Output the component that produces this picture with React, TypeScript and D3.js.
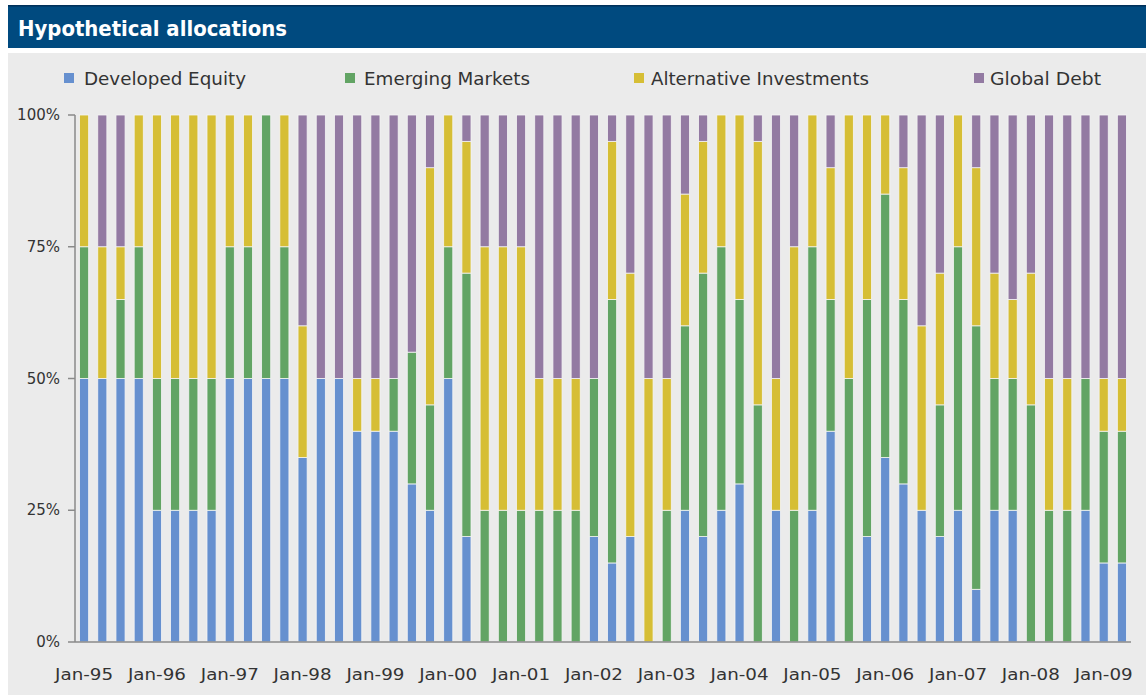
import React from "react";
import * as d3 from "d3";

const quarters = [
  "Jan-95","Apr-95","Jul-95","Oct-95","Jan-96","Apr-96","Jul-96","Oct-96",
  "Jan-97","Apr-97","Jul-97","Oct-97","Jan-98","Apr-98","Jul-98","Oct-98",
  "Jan-99","Apr-99","Jul-99","Oct-99","Jan-00","Apr-00","Jul-00","Oct-00",
  "Jan-01","Apr-01","Jul-01","Oct-01","Jan-02","Apr-02","Jul-02","Oct-02",
  "Jan-03","Apr-03","Jul-03","Oct-03","Jan-04","Apr-04","Jul-04","Oct-04",
  "Jan-05","Apr-05","Jul-05","Oct-05","Jan-06","Apr-06","Jul-06","Oct-06",
  "Jan-07","Apr-07","Jul-07","Oct-07","Jan-08","Apr-08","Jul-08","Oct-08",
  "Jan-09","Apr-09",
];

const tickLabels = [
  "Jan-95","Jan-96","Jan-97","Jan-98","Jan-99","Jan-00","Jan-01","Jan-02",
  "Jan-03","Jan-04","Jan-05","Jan-06","Jan-07","Jan-08","Jan-09",
];

const seriesNames = ["Developed Equity", "Emerging Markets", "Alternative Investments", "Global Debt"];

const developedEquity = [
  50,50,50,50,25,25,25,25,50,50,50,50,35,50,50,40,
  40,40,30,25,50,20,0,0,0,0,0,0,20,15,20,0,
  0,25,20,25,30,0,25,0,25,40,0,20,35,30,25,20,
  25,10,25,25,0,0,0,25,15,15,
];
const emergingMarkets = [
  25,0,15,25,25,25,25,25,25,25,50,25,0,0,0,0,
  0,10,25,20,25,50,25,25,25,25,25,25,30,50,0,0,
  25,35,50,50,35,45,0,25,50,25,50,45,50,35,0,25,
  50,50,25,25,45,25,25,25,25,25,
];
const alternativeInvestments = [
  25,25,10,25,50,50,50,50,25,25,0,25,25,0,0,10,
  10,0,0,45,25,25,50,50,50,25,25,25,0,30,50,50,
  25,25,25,25,35,50,25,50,25,25,50,35,15,25,35,25,
  25,30,20,15,25,25,25,0,10,10,
];
const globalDebt = [
  0,25,25,0,0,0,0,0,0,0,0,0,40,50,50,50,
  50,50,45,10,0,5,25,25,25,50,50,50,50,5,30,50,
  50,15,5,0,0,5,50,25,0,10,0,0,0,10,40,30,
  0,10,30,35,30,50,50,50,50,50,
];

const yTicks = [0, 0.25, 0.5, 0.75, 1];
const yTickLabels = ["0%", "25%", "50%", "75%", "100%"];

const colors = ["#6690cf", "#62a464", "#d6be35", "#937aa2"];

const W = 1146;
const H = 695;
const FONT = "'DejaVu Sans', Verdana, sans-serif";

export default function App() {
  const rows = quarters.map((q, i) => ({
    q,
    de: developedEquity[i] / 100,
    em: emergingMarkets[i] / 100,
    ai: alternativeInvestments[i] / 100,
    gd: globalDebt[i] / 100,
  }));
  const keys = ["de", "em", "ai", "gd"];
  const stacked = d3.stack<any>().keys(keys)(rows);

  const x = d3.scaleBand<string>().domain(quarters).range([75, 1131]).paddingInner(0.5).paddingOuter(0.25);
  const y = d3.scaleLinear().domain([0, 1]).range([642, 115]);

  const legend = [
    { sx: 64, tx: 84, tw: 162 },
    { sx: 345, tx: 364, tw: 166 },
    { sx: 634, tx: 651, tw: 218 },
    { sx: 974, tx: 990, tw: 111 },
  ];

  return (
    <svg
      width={W}
      height={H}
      style={{ position: "absolute", left: 0, top: 0, background: "#ffffff" }}
      fontFamily={FONT}
    >
      {/* title bar */}
      <rect x={8} y={5} width={W - 8} height={43} fill="#004a7f" />
      <rect x={8} y={5} width={W - 8} height={1.5} fill="#00305a" />
      <text x={18} y={36} fill="#ffffff" fontSize={21} fontWeight="bold" textLength={269} lengthAdjust="spacingAndGlyphs">
        Hypothetical allocations
      </text>

      {/* panel */}
      <rect x={8} y={53} width={W - 8} height={H - 53} fill="#ebebeb" />

      {/* legend */}
      {seriesNames.map((name, i) => (
        <g key={name}>
          <rect x={legend[i].sx} y={73} width={10} height={10} fill={colors[i]} />
          <text x={legend[i].tx} y={85} fontSize={17} fill="#333333" textLength={legend[i].tw} lengthAdjust="spacingAndGlyphs">
            {name}
          </text>
        </g>
      ))}

      {/* bars */}
      {stacked.map((layer, li) => (
        <g key={layer.key} fill={colors[li]}>
          {layer.map((d, i) => {
            const h = y(d[0]) - y(d[1]);
            if (h <= 0) return null;
            return (
              <rect
                key={i}
                x={x(quarters[i])}
                y={y(d[1])}
                width={x.bandwidth()}
                height={h}
                stroke="#f4f4f4"
                strokeWidth={0.8}
              />
            );
          })}
        </g>
      ))}

      {/* y axis */}
      <line x1={75} x2={75} y1={y(1)} y2={y(0)} stroke="#8a8a8a" strokeWidth={1.5} />
      {yTicks.map((t, i) => (
        <g key={t}>
          <line x1={68} x2={75} y1={y(t)} y2={y(t)} stroke="#8a8a8a" strokeWidth={1.5} />
          <text x={60} y={y(t) + 5} textAnchor="end" fontSize={15} fill="#333333">
            {yTickLabels[i]}
          </text>
        </g>
      ))}

      {/* x axis */}
      <line x1={75} x2={1131} y1={y(0)} y2={y(0)} stroke="#8a8a8a" strokeWidth={1.5} />
      {tickLabels.map((t) => (
        <text
          key={t}
          x={(x(t) as number) + x.bandwidth() / 2}
          y={680}
          textAnchor="middle"
          fontSize={16}
          fill="#333333"
          textLength={58}
          lengthAdjust="spacingAndGlyphs"
        >
          {t}
        </text>
      ))}
    </svg>
  );
}
